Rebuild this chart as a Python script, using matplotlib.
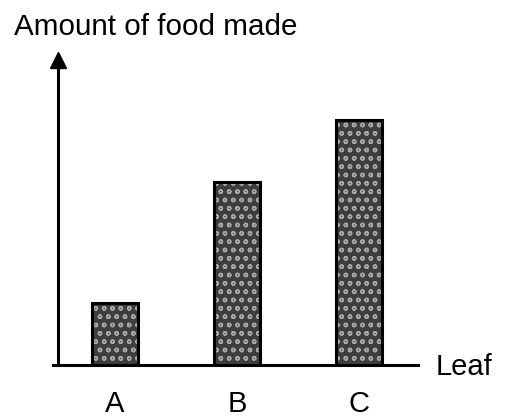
import numpy as np
import matplotlib
matplotlib.use("Agg")
import matplotlib.pyplot as plt

leaves = ["A", "B", "C"]
food = [1.0, 2.95, 3.95]

plt.rcParams['font.family'] = ['Liberation Sans', 'DejaVu Sans']
plt.rcParams['hatch.linewidth'] = 1.0

fig = plt.figure(figsize=(5.1, 4.19), dpi=100)
ax = fig.add_axes([58/510, 54/419, 360/510, 305/419])

x = np.arange(len(leaves))
# textured fill: dark grey face with light speckle hatch
ax.bar(x, food, width=0.377, color='#3e3e3e', edgecolor='#a8a8a8',
       hatch='oo', linewidth=0, zorder=2)
ax.bar(x, food, width=0.377, fill=False, edgecolor='black', linewidth=2.2, zorder=3)

ax.set_xlim(-0.467, 2.484)
ax.set_ylim(0, 4.92)

for s in ['top', 'right']:
    ax.spines[s].set_visible(False)
ax.spines['left'].set_linewidth(2.2)
ax.spines['bottom'].set_linewidth(2.2)
ax.spines['bottom'].set_bounds(-0.51, 2.484)
ax.set_yticks([])
ax.set_xticks(x)
ax.set_xticklabels(leaves, fontsize=21)
ax.tick_params(axis='x', length=0, pad=18)

# arrow head on y axis
ax.plot(0, 1, marker='^', color='black', markersize=11, transform=ax.transAxes,
        clip_on=False, zorder=4)

ax.text(1.05, -0.005, "Leaf", transform=ax.transAxes, fontsize=21, va='center', ha='left')
fig.text(14/510, 1 - 35/419, "Amount of food made", fontsize=21.3, va='baseline', ha='left')

fig.savefig("out.png", dpi=100)
